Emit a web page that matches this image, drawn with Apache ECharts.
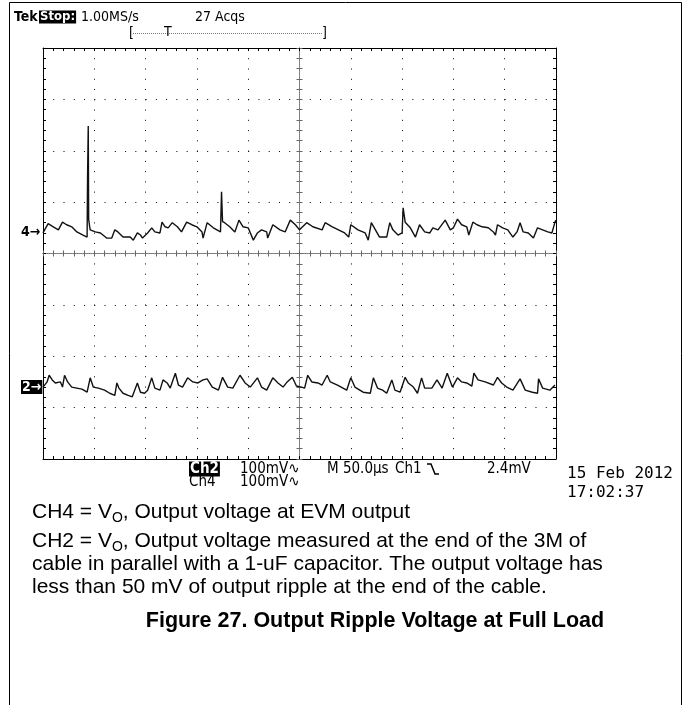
<!DOCTYPE html>
<html><head><meta charset="utf-8">
<script src="https://cdn.jsdelivr.net/npm/echarts@6/dist/echarts.min.js"></script>
<style>html,body{margin:0;padding:0;background:#fff}#c{width:683px;height:705px}</style>
</head><body><div id="c"></div>
<script>
// ---- data (time in µs, voltage in mV relative to each channel's ground marker) ----
const ch4Time = [0,5,10,15,19,23,28,33,39,43,43.4,43.8,44.1,44.5,45.5,46,51,56,62,67,70,73,78,85,88,92,95,97,102,106,109,114,116,119,122,126,131,135,140,145,150,155,156,160,166,173,174,175,177,182,187,191,195,200,205,209,213,218,219,224,231,236,241,246,250,257,263,272,275,282,288,294,298,300,307,314,317,320,324,328,335,338,341,346,350,351,353,358,363,367,372,377,380,385,392,397,400,404,408,413,415,419,423,428,434,439,441,443,448,453,458,462,465,468,473,478,482,487,492,496,499,500];
const ch4MilliVolts = [-2,16,10,4,19,14,10,0,-6,-10,101,100,206,25,10,4,0,-2,-12,-12,4,0,-10,-10,-16,-2,-6,-12,-2,8,0,-2,19,10,8,18,10,0,19,14,10,0,-12,18,8,0,78,20,18,10,0,23,10,8,-16,-2,4,0,-12,14,4,0,23,14,4,18,10,4,18,10,4,-2,-10,14,4,-2,-16,18,4,-10,-10,18,4,-6,-2,47,19,8,-10,14,0,-2,8,4,23,4,8,25,14,10,-6,19,14,10,8,0,-6,14,8,4,-10,0,18,0,-2,-12,8,4,0,-2,19,23];
const ch2Time = [0,4,6,9,12,17,19,21,24,28,33,38,43,46,49,54,60,65,70,72,74,78,83,87,92,95,99,102,106,109,114,117,121,124,129,132,136,141,146,151,156,160,165,171,175,180,185,192,197,202,209,213,218,224,229,234,238,243,247,252,255,258,262,268,272,277,280,287,296,300,304,312,319,322,326,331,335,340,343,348,353,356,361,365,369,372,379,384,389,394,399,404,408,413,418,420,424,431,439,443,447,452,458,465,470,477,482,483,487,494,499];
const ch2MilliVolts = [0,10,23,14,8,10,0,23,10,0,-2,-4,-10,18,0,-2,-6,-12,-16,8,-2,-12,-16,-19,8,-10,-12,-6,18,-2,-6,14,8,-2,27,4,0,18,10,8,14,16,0,-6,19,0,-2,23,8,0,18,0,-6,18,8,0,10,19,2,0,-2,23,10,8,4,23,10,4,-6,18,0,-10,-12,18,-2,-6,-12,14,-6,-10,19,8,0,-12,18,-2,-2,14,-2,27,0,18,10,8,2,27,14,10,4,19,8,0,-6,16,-6,-10,-12,16,-2,-6,4];
const ch4Position = 0.42;   // divisions above screen centre
const ch2Position = -2.6;   // divisions (below centre)
const mVPerDiv = 100;
const timeMin = 0, timeMax = 500, timePerDiv = 50;
const divMin = -4, divMax = 4;

function toSeries(t, v, pos) {
  const out = [];
  for (let i = 0; i < Math.min(t.length, v.length); i++) out.push([t[i], pos + v[i] / mVPerDiv]);
  return out;
}

const G = {left: 43, top: 48, width: 513, height: 411};
const black = '#000';
const dots = [1, 9.26];
const scopeFont = '"DejaVu Sans Condensed","Liberation Sans Narrow","Liberation Sans",sans-serif';
const capFont = '"Liberation Sans",Arial,sans-serif';

function xAx(opts) {
  return Object.assign({
    type: 'value', min: timeMin, max: timeMax, interval: timePerDiv, position: 'bottom',
    axisLine: {show: true, onZero: false, lineStyle: {color: black, width: 1}},
    axisTick: {show: true, inside: true, length: 3, lineStyle: {color: black}},
    minorTick: {show: true, splitNumber: 5, length: 3, lineStyle: {color: black}},
    axisLabel: {show: false}, splitLine: {show: false}
  }, opts);
}
function yAx(opts) {
  return Object.assign({
    type: 'value', min: divMin, max: divMax, interval: 1, position: 'left',
    axisLine: {show: true, onZero: false, lineStyle: {color: black, width: 1}},
    axisTick: {show: true, inside: true, length: 3, lineStyle: {color: black}},
    minorTick: {show: true, splitNumber: 5, length: 3, lineStyle: {color: black}},
    axisLabel: {show: false}, splitLine: {show: false}
  }, opts);
}
const centreLine = {show: true, onZero: false, lineStyle: {color: '#777', width: 1, type: [1, 1]}};
const centreTick = {lineStyle: {color: '#666'}};

const xAxis = [
  xAx({splitLine: {show: true, lineStyle: {color: black, width: 1, type: dots}}}),
  xAx({position: 'top'}),
  xAx({offset: -G.height / 2, axisLine: centreLine,
       axisTick: Object.assign({show: true, inside: true, length: 3}, centreTick),
       minorTick: Object.assign({show: true, splitNumber: 5, length: 3}, centreTick)}),
  xAx({offset: -G.height / 2, axisLine: centreLine,
       axisTick: Object.assign({show: true, inside: false, length: 3}, centreTick),
       minorTick: Object.assign({show: true, splitNumber: 5, length: 3}, centreTick)})
];
const yAxis = [
  yAx({splitLine: {show: true, lineStyle: {color: black, width: 1, type: dots}}}),
  yAx({position: 'right'}),
  yAx({offset: -G.width / 2, axisLine: centreLine,
       axisTick: Object.assign({show: true, inside: true, length: 3}, centreTick),
       minorTick: Object.assign({show: true, splitNumber: 5, length: 3}, centreTick)}),
  yAx({offset: -G.width / 2, axisLine: centreLine,
       axisTick: Object.assign({show: true, inside: false, length: 3}, centreTick),
       minorTick: Object.assign({show: true, splitNumber: 5, length: 3}, centreTick)})
];

const mctx = document.createElement('canvas').getContext('2d');
function tw(str, font) { mctx.font = font; return mctx.measureText(str).width; }

function txt(text, x, y, font, extra) {
  return {type: 'text', z: 10, style: Object.assign({text: text, x: x, y: y, font: font, fill: black,
    verticalAlign: 'middle', textVerticalAlign: 'middle'}, extra || {})};
}
function boxTxt(text, x, y, font) {
  return txt(text, x, y, font, {fill: '#fff', backgroundColor: '#000', padding: [0, 1, 0, 1]});
}

const capF = '21px ' + capFont;
const subF = '14px ' + capFont;
function subLine(pre, sub, post, x, y) {
  const w1 = tw(pre, capF), w2 = tw(sub, subF);
  return [txt(pre, x, y, capF), txt(sub, x + w1, y + 6, subF), txt(post, x + w1 + w2, y, capF)];
}

const sF = '15px ' + scopeFont;
const sFB = 'bold 15px ' + scopeFont;
const tF = '14px ' + scopeFont;
const tFB = 'bold 13px ' + scopeFont;
const dF = '16px "DejaVu Sans Mono",monospace';
const graphic = [
  {type: 'polyline', shape: {points: [[9.5, 705], [9.5, 2.5], [681.5, 2.5], [681.5, 705]]}, style: {stroke: black, lineWidth: 1, fill: null}},
  txt('Tek', 14, 17, 'bold 14px ' + scopeFont),
  boxTxt('Stop:', 39, 17, tFB),
  txt('1.00MS/s', 81, 17, tF),
  txt('27 Acqs', 195, 17, tF),
  txt('[', 129, 33, tF),
  txt(']', 322, 33, tF),
  {type: 'line', shape: {x1: 133, y1: 33.5, x2: 322, y2: 33.5}, style: {stroke: '#777', lineWidth: 1, lineDash: [1, 1]}},
  txt('T', 164, 32, '14px ' + scopeFont),
  txt('4\u2192', 21, 232, 'bold 14px ' + scopeFont),
  boxTxt('2\u2192', 21, 387, 'bold 14px ' + scopeFont),
  boxTxt('Ch2', 189, 469, sFB),
  txt('100mV\u223F', 240, 469, sF),
  txt('M 50.0\u00B5s', 327, 469, sF),
  txt('Ch1', 395, 469, sF),
  {type: 'polyline', shape: {points: [[427, 464], [431, 464], [435, 474], [439, 474]]}, style: {stroke: black, lineWidth: 1.5, fill: null}},
  txt('2.4mV', 487, 469, sF),
  txt('Ch4', 189, 482, sF),
  txt('100mV\u223F', 240, 482, sF),
  txt('15 Feb 2012', 567, 474, dF),
  txt('17:02:37', 567, 493, dF),
  ...subLine('CH4 = V', 'O', ', Output voltage at EVM output', 32, 512),
  ...subLine('CH2 = V', 'O', ', Output voltage measured at the end of the 3M of', 32, 541),
  txt('cable in parallel with a 1-uF capacitor. The output voltage has', 32, 564, capF),
  txt('less than 50 mV of output ripple at the end of the cable.', 32, 587, capF),
  txt('Figure 27. Output Ripple Voltage at Full Load', 375, 621, 'bold 21.5px ' + capFont, {textAlign: 'center', align: 'center'})
];

const chart = echarts.init(document.getElementById('c'));
chart.setOption({
  animation: false,
  backgroundColor: '#fff',
  grid: G,
  xAxis: xAxis,
  yAxis: yAxis,
  series: [
    {name: 'Ch4', type: 'line', xAxisIndex: 0, yAxisIndex: 0, data: toSeries(ch4Time, ch4MilliVolts, ch4Position),
     showSymbol: false, symbol: 'none', lineStyle: {color: '#111', width: 1.4}, z: 5},
    {name: 'Ch2', type: 'line', xAxisIndex: 0, yAxisIndex: 0, data: toSeries(ch2Time, ch2MilliVolts, ch2Position),
     showSymbol: false, symbol: 'none', lineStyle: {color: '#111', width: 1.4}, z: 5}
  ],
  graphic: graphic
});
</script></body></html>
